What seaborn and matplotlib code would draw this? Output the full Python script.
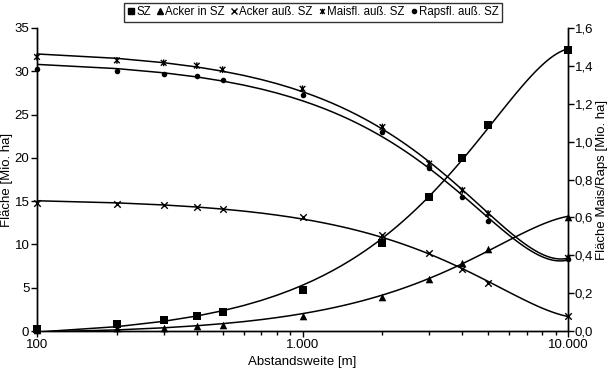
import numpy as np
import pandas as pd
import matplotlib
matplotlib.use("Agg")
import matplotlib.pyplot as plt
import seaborn as sns
from matplotlib.ticker import FuncFormatter, FixedLocator, LogLocator, NullFormatter
from matplotlib.lines import Line2D
from matplotlib.path import Path

# ---- data ----
distance = [100, 200, 300, 400, 500, 1000, 2000, 3000, 4000, 5000, 10000]
sz = [0.2, 0.81, 1.27, 1.73, 2.23, 4.73, 10.2, 15.5, 20.0, 23.8, 32.5]
acker_in_sz = [0.12, 0.31, 0.38, 0.58, 0.69, 1.79, 3.96, 6.0, 7.88, 9.42, 13.2]
acker_aus_sz = [14.8, 14.65, 14.55, 14.34, 14.15, 13.18, 11.07, 8.96, 7.12, 5.5, 1.73]
mais_aus_sz = [1.447, 1.429, 1.416, 1.401, 1.380, 1.279, 1.077, 0.884, 0.743, 0.620, 0.386]
raps_aus_sz = [1.385, 1.371, 1.358, 1.344, 1.327, 1.244, 1.051, 0.863, 0.705, 0.581, 0.380]

labels = ["SZ", "Acker in SZ", "Acker auß. SZ", "Maisfl. auß. SZ", "Rapsfl. auß. SZ"]
left_ticks = [0, 5, 10, 15, 20, 25, 30, 35]
right_ticks = [0.0, 0.2, 0.4, 0.6, 0.8, 1.0, 1.2, 1.4, 1.6]
x_ticks = [100, 1000, 10000]

sns.set_style("ticks")
plt.rcParams['font.family'] = ['Liberation Sans', 'DejaVu Sans']
plt.rcParams.update({
    'text.color': 'black', 'axes.labelcolor': 'black',
    'xtick.color': 'black', 'ytick.color': 'black',
    'axes.edgecolor': 'black', 'font.size': 9,
})

star = Path([(-1, -1), (1, 1), (-1, 1), (1, -1), (0, -1.2), (0, 1.2)],
            [Path.MOVETO, Path.LINETO, Path.MOVETO, Path.LINETO, Path.MOVETO, Path.LINETO])

df = pd.DataFrame({"x": distance, "SZ": sz, "AinSZ": acker_in_sz, "AausSZ": acker_aus_sz,
                   "Mais": mais_aus_sz, "Raps": raps_aus_sz})

fig = plt.figure(figsize=(6.09, 3.74), dpi=100)
ax = fig.add_axes([37 / 609, 43 / 374, 531 / 609, 303 / 374])
ax2 = ax.twinx()

line_kws = dict(lw=1.1, color='black')
for col in ["SZ", "AinSZ", "AausSZ"]:
    sns.regplot(data=df, x="x", y=col, ax=ax, order=2, ci=None, scatter=False,
                color='black', line_kws=line_kws, truncate=True)
for col in ["Mais", "Raps"]:
    sns.regplot(data=df, x="x", y=col, ax=ax2, order=2, ci=None, scatter=False,
                color='black', line_kws=line_kws, truncate=True)

sns.scatterplot(data=df, x="x", y="SZ", ax=ax, marker='s', color='black', s=26,
                linewidth=0, clip_on=False, zorder=5)
sns.scatterplot(data=df, x="x", y="AinSZ", ax=ax, marker='^', color='black', s=30,
                linewidth=0, clip_on=False, zorder=5)
sns.scatterplot(data=df, x="x", y="AausSZ", ax=ax, marker='x', color='black', s=22,
                linewidth=1.0, clip_on=False, zorder=5)
sns.scatterplot(data=df, x="x", y="Mais", ax=ax2, marker=star, color='black', s=24,
                linewidth=1.0, edgecolor='black', facecolor='none', clip_on=False, zorder=5)
sns.scatterplot(data=df, x="x", y="Raps", ax=ax2, marker='o', color='black', s=16,
                linewidth=0, clip_on=False, zorder=5)

for a in (ax, ax2):
    a.set_xscale('log')
    a.set_xlim(100, 10000)
    a.spines['top'].set_visible(False)
    for s in a.spines.values():
        s.set_linewidth(1.0)
        s.set_color('black')

ax.set_ylim(0, 35)
ax.yaxis.set_major_locator(FixedLocator(left_ticks))
ax.xaxis.set_major_locator(FixedLocator(x_ticks))
ax.xaxis.set_minor_locator(LogLocator(base=10, subs=np.arange(2, 10)))
ax.xaxis.set_minor_formatter(NullFormatter())
ax.xaxis.set_major_formatter(FuncFormatter(lambda v, p: f"{int(round(v)):,}".replace(",", ".")))
ax2.set_ylim(0, 1.6)
ax2.yaxis.set_major_locator(FixedLocator(right_ticks))
ax2.yaxis.set_major_formatter(FuncFormatter(lambda v, p: f"{v:.1f}".replace(".", ",")))

ax.tick_params(axis='both', which='major', direction='out', length=4, width=1, labelsize=9.5, pad=2)
ax.tick_params(axis='y', which='major', pad=1.5)
ax.tick_params(axis='x', which='minor', direction='out', length=3, width=1)
ax2.tick_params(axis='y', which='major', direction='out', length=4, width=1, labelsize=9.5, pad=1)

ax.set_xlabel("Abstandsweite [m]", fontsize=9.5, labelpad=3)
ax.set_ylabel("Fläche [Mio. ha]", fontsize=9.5, labelpad=1)
ax2.set_ylabel("Fläche Mais/Raps [Mio. ha]", fontsize=9.5, labelpad=2)

handles = [
    Line2D([], [], marker='s', ls='None', color='black', markersize=4.5),
    Line2D([], [], marker='^', ls='None', color='black', markersize=5),
    Line2D([], [], marker='x', ls='None', color='black', markersize=4, markeredgewidth=1),
    Line2D([], [], marker=star, ls='None', color='black', markersize=4, markeredgewidth=1, markerfacecolor='none'),
    Line2D([], [], marker='o', ls='None', color='black', markersize=3),
]
leg = fig.legend(handles, labels, ncol=5, loc='upper center', bbox_to_anchor=(313 / 609, 0.995),
                 frameon=True, fancybox=False, edgecolor='black', fontsize=8.3,
                 handlelength=0.6, handletextpad=0.15, columnspacing=0.5, borderpad=0.3,
                 borderaxespad=0.1)
leg.get_frame().set_linewidth(1.0)

fig.savefig("out.png", dpi=100, facecolor='white')
